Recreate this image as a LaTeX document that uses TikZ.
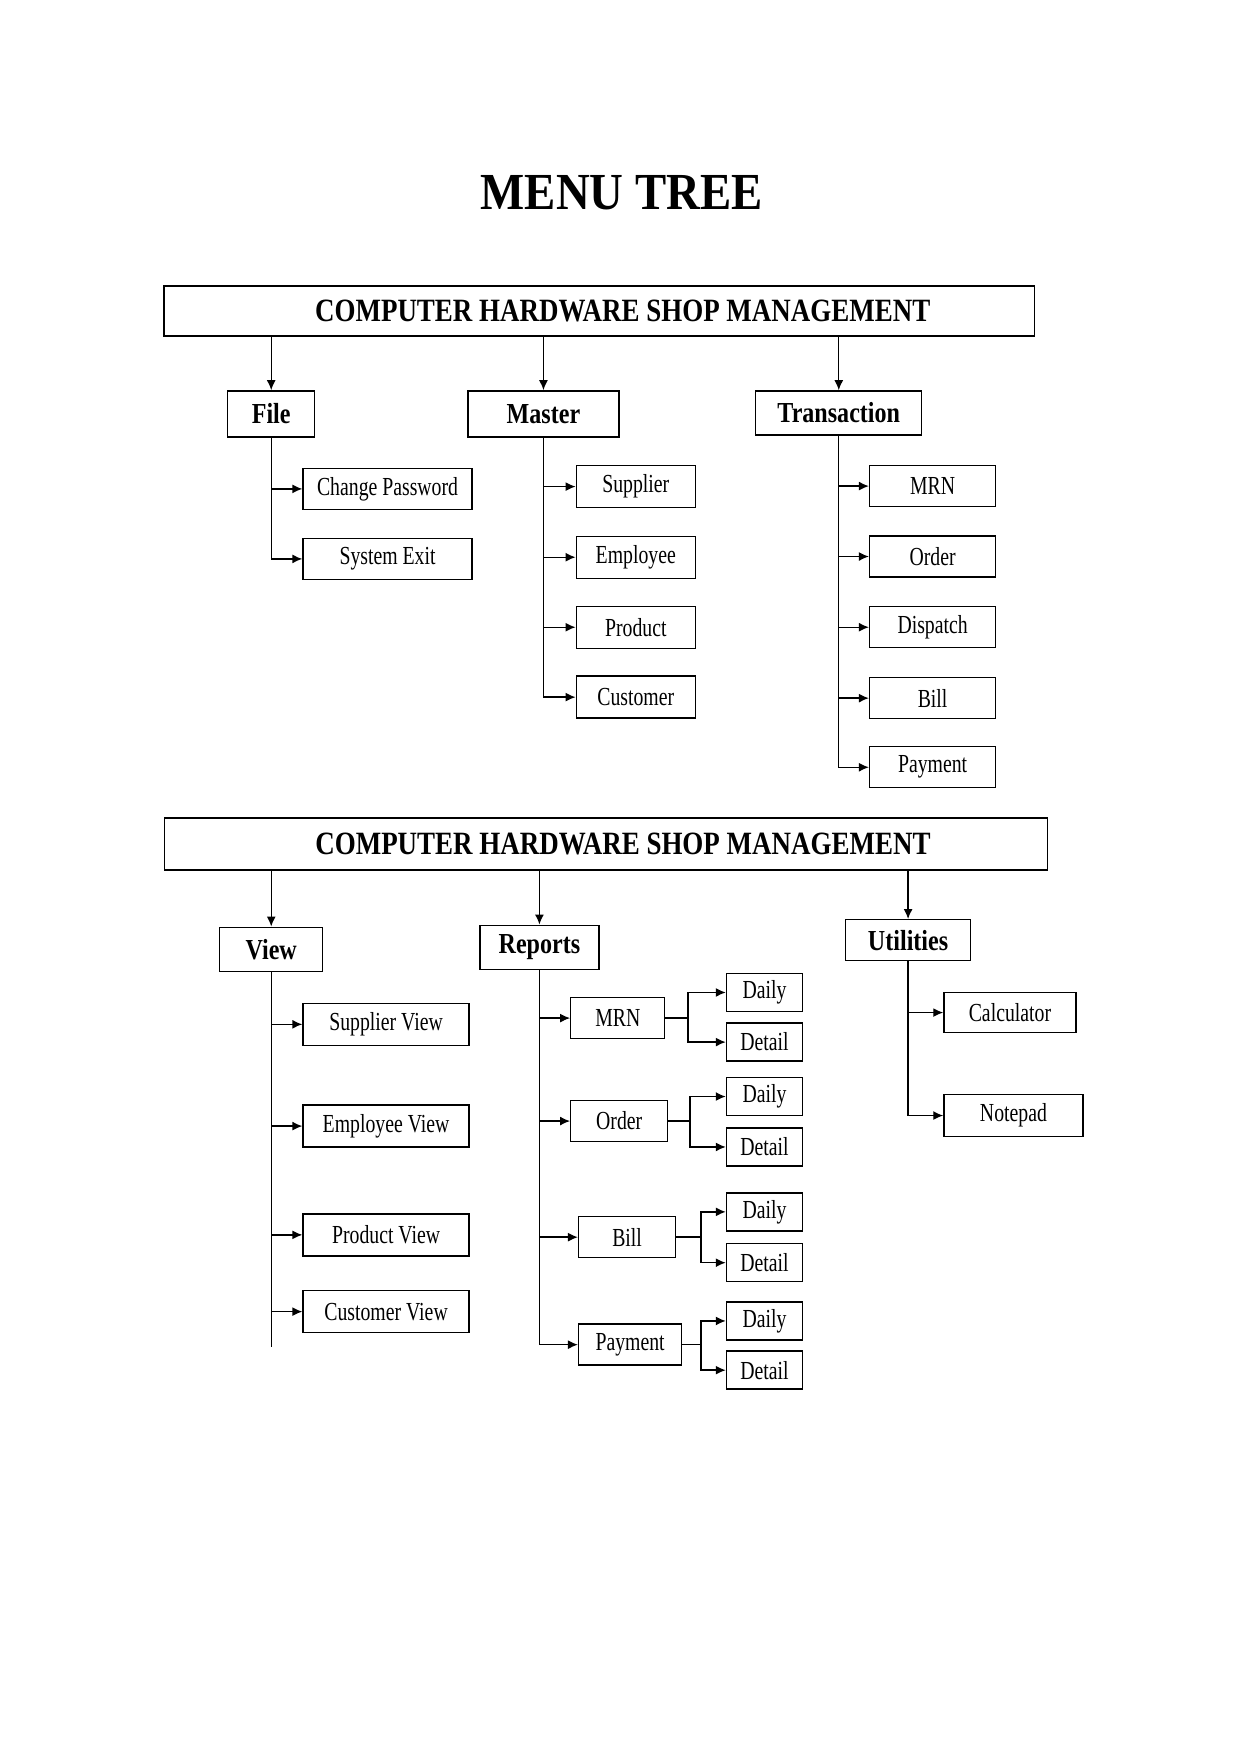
\documentclass[tikz,border=0pt]{standalone}
\usepackage{fontspec}
\setmainfont{Liberation Serif}[FakeStretch=0.76, BoldFeatures={FakeStretch=0.83}]
\newfontfamily\titlefont{Liberation Serif}[FakeStretch=0.9]
\usetikzlibrary{arrows.meta}
\tikzset{
 box/.style={draw, line width=1.4pt, inner sep=0pt, font=\fontsize{26}{30}\selectfont},
 menu/.style={box, font=\fontsize{29}{32}\selectfont\bfseries},
 head/.style={box, font=\fontsize{32.5}{36}\selectfont\bfseries},
 wh/.style 2 args={minimum width=#1pt, minimum height=#2pt},
 arr/.style={line width=1.4pt, -{Latex[length=10pt,width=9pt]}},
 line/.style={line width=1.4pt}
}

\begin{document}
\begin{tikzpicture}[x=1.0045pt,y=-1.0045pt]
\useasboundingbox (0,0) rectangle (1235.4,1747.1);
\node (title) at (619,192) {\titlefont\fontsize{52}{56}\selectfont\bfseries MENU TREE};

% upper tree
\node[head, wh={870}{50}] (cshm) at (596.5,309.4) {\hspace*{47pt}COMPUTER HARDWARE SHOP MANAGEMENT};
\node[menu, wh={87}{46}] (file) at (270,412) {File};
\node[menu, wh={151}{46}] (master) at (541,412) {Master};
\node[menu, wh={166}{44}] (trans) at (835,411) {Transaction};
\foreach \m in {file,master,trans}
 \draw[arr] (cshm.south -| \m) -- (\m);

\foreach \n/\t/\y in {cpass/Change Password/486.7, sysexit/System Exit/556.4} {
 \node[box, anchor=west, wh={169}{41}] (\n) at (301,\y) {\t};
 \draw[arr] (file.south) |- (\n);
 }
\foreach \n/\t/\y in {msup/Supplier/484.4, memp/Employee/554.7, mprod/Product/624.4, mcust/Customer/694} {
 \node[box, anchor=west, wh={119}{42}] (\n) at (573,\y) {\t};
 \draw[arr] (master.south) |- (\n);
 }
\foreach \n/\t/\y in {tmrn/MRN/483.9, tord/Order/554, tdisp/Dispatch/624.4, tbill/Bill/695, tpay/Payment/763.8} {
 \node[box, anchor=west, wh={126}{41}] (\n) at (865,\y) {\t};
 \draw[arr] (trans.south) |- (\n);
 }

% lower tree
\node[head, wh={883}{52}] (cshm2) at (603.2,840.2) {\hspace*{34pt}COMPUTER HARDWARE SHOP MANAGEMENT};
\node[menu, wh={103}{44}] (view) at (270,945) {View};
\node[menu, wh={119}{44}] (reports) at (537,943) {Reports};
\node[menu, wh={125}{41}] (util) at (904,936) {Utilities};
\foreach \m in {view,reports,util}
 \draw[arr] (cshm2.south -| \m) -- (\m);

\coordinate (vend) at (270,1341);
\draw[line] (view.south) -- (vend);
\foreach \n/\t/\y in {vsup/Supplier View/1019.7, vemp/Employee View/1121, vprod/Product View/1229.3, vcust/Customer View/1305.7} {
 \node[box, anchor=west, wh={166}{42}] (\n) at (301,\y) {\t};
 \draw[arr] (view.south) |- (\n);
 }

\foreach \n/\t/\x/\y/\w/\jx/\ya/\yb in {rmrn/MRN/567.5/1013.5/94/685/988/1037.4,
 rord/Order/567.5/1116/97/687/1091.6/1141.8,
 rbill/Bill/575.3/1231.6/97/698/1206.4/1257,
 rpay/Payment/575.3/1338.6/103/698/1315/1364} {
 \node[box, anchor=west, wh={\w}{41}] (\n) at (\x,\y) {\t};
 \draw[arr] (reports.south) |- (\n);
 \node[box, anchor=west, wh={76}{38}] (\n daily) at (722.5,\ya) {Daily};
 \node[box, anchor=west, wh={76}{38}] (\n detail) at (722.5,\yb) {Detail};
 \coordinate (\n j) at (\jx,\y);
 \draw[line] (\n.east) -- (\n j);
 \draw[arr] (\n j) |- (\n daily);
 \draw[arr] (\n j) |- (\n detail);
 }

\node[box, anchor=west, wh={132}{40}] (calc) at (939,1008) {Calculator};
\node[box, anchor=west, wh={139}{42}] (note) at (939,1110.5) {Notepad};
\draw[arr] (util.south) |- (calc);
\draw[arr] (util.south) |- (note);
\end{tikzpicture}
\end{document}
